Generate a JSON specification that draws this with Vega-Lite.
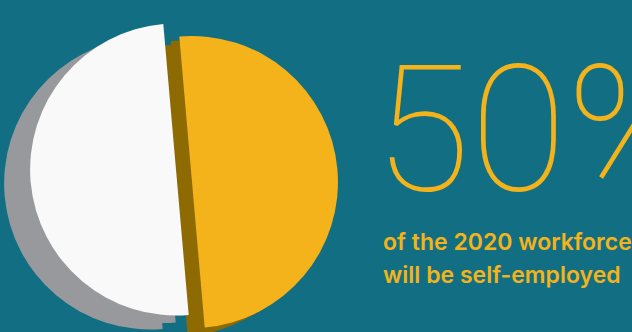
{
  "$schema": "https://vega.github.io/schema/vega-lite/v6.json",
  "width": 632,
  "height": 332,
  "autosize": {"type": "none"},
  "padding": 0,
  "background": "#126F83",
  "config": {"view": {"stroke": null}},
  "data": {"values": [
    {"segment": "Self-employed", "share": 0.5},
    {"segment": "Other", "share": 0.5}
  ]},
  "encoding": {
    "theta": {"field": "share", "type": "quantitative", "stack": true, "scale": {"domain": [0, 1], "range": [-0.087, 6.196]}},
    "order": {"field": "segment", "sort": "descending"}
  },
  "layer": [
    {
      "mark": {"type": "arc", "outerRadius": 146, "color": "#97999C", "xOffset": -166, "yOffset": 17.5},
      "encoding": {"opacity": {"condition": {"test": "datum.segment === 'Other'", "value": 1}, "value": 0}}
    },
    {
      "mark": {"type": "arc", "outerRadius": 146, "color": "#97999C", "xOffset": -153, "yOffset": 11},
      "encoding": {"opacity": {"condition": {"test": "datum.segment === 'Other'", "value": 1}, "value": 0}}
    },
    {
      "mark": {"type": "arc", "outerRadius": 146, "color": "#8E6A02", "xOffset": -141, "yOffset": 25},
      "encoding": {"opacity": {"condition": {"test": "datum.segment === 'Self-employed'", "value": 1}, "value": 0}}
    },
    {
      "mark": {"type": "arc", "outerRadius": 146, "color": "#8E6A02", "xOffset": -132.5, "yOffset": 20.5},
      "encoding": {"opacity": {"condition": {"test": "datum.segment === 'Self-employed'", "value": 1}, "value": 0}}
    },
    {
      "mark": {"type": "arc", "outerRadius": 146, "color": "#F9F9F9", "xOffset": -140, "yOffset": 3.5},
      "encoding": {"opacity": {"condition": {"test": "datum.segment === 'Other'", "value": 1}, "value": 0}}
    },
    {
      "mark": {"type": "arc", "outerRadius": 146, "color": "#F4B31A", "xOffset": -124, "yOffset": 16},
      "encoding": {"opacity": {"condition": {"test": "datum.segment === 'Self-employed'", "value": 1}, "value": 0}}
    },
    {
      "transform": [{"filter": "datum.segment === 'Self-employed'"}],
      "mark": {"type": "text", "font": "Roboto", "fontWeight": 100, "fontSize": 176, "color": "#F4B31A", "align": "left", "baseline": "alphabetic", "dx": 58, "dy": 24},
      "encoding": {"text": {"field": "share", "type": "quantitative", "format": ".0%"}}
    },
    {
      "transform": [{"filter": "datum.segment === 'Self-employed'"}],
      "mark": {"type": "text", "font": "Inter", "fontWeight": 600, "fontSize": 23, "lineHeight": 33, "color": "#F4B31A", "align": "left", "baseline": "alphabetic", "dx": 67, "dy": 84, "text": ["of the 2020 workforce", "will be self-employed"]},
      "encoding": {}
    }
  ]
}
